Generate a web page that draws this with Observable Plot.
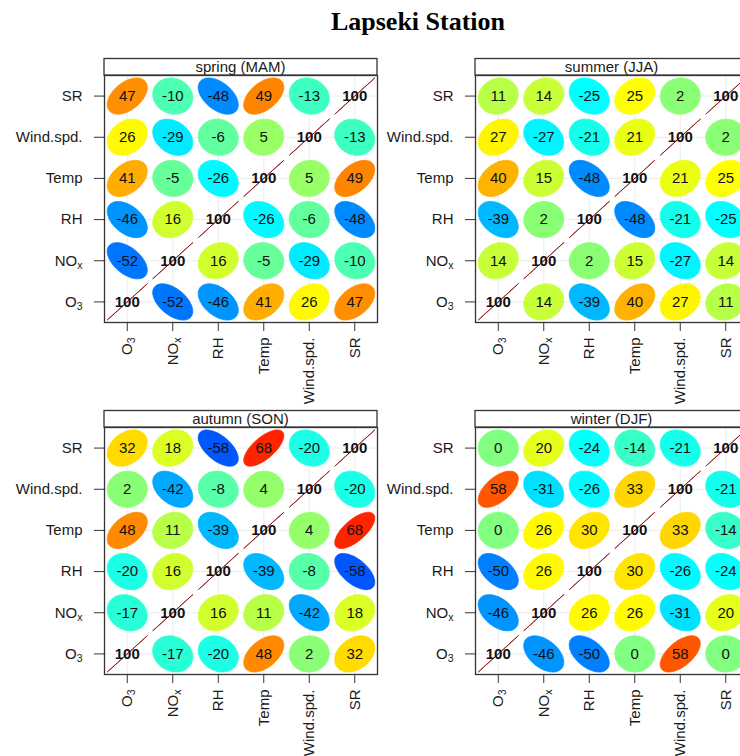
<!DOCTYPE html>
<html>
<head>
<meta charset="utf-8">
<script src="https://cdn.jsdelivr.net/npm/d3@7"></script>
<script src="https://cdn.jsdelivr.net/npm/@observablehq/plot@0.6"></script>
<style>
  html, body { margin: 0; padding: 0; background: #fff; overflow: hidden; }
  #wrap { position: relative; width: 740px; height: 756px; overflow: hidden; background: #fff; }
  .panel { position: absolute; width: 381px; height: 349px; }
  .panel svg { overflow: visible; max-width: none !important; width: 381px !important; height: 349px !important; }
</style>
</head>
<body>
<div id="wrap"></div>
<script>
// ---- data ----
const title = "Lapseki Station";
const vars = ["O3", "NOx", "RH", "Temp", "Wind.spd.", "SR"]; // bottom-to-top / left-to-right
const seasonLabels = ["spring (MAM)", "summer (JJA)", "autumn (SON)", "winter (DJF)"];

// rows: y variable (O3, NOx, RH, Temp, Wind.spd., SR); columns: x variable in same order
const spring = [
  [100, -52, -46, 41, 26, 47],
  [-52, 100, 16, -5, -29, -10],
  [-46, 16, 100, -26, -6, -48],
  [41, -5, -26, 100, 5, 49],
  [26, -29, -6, 5, 100, -13],
  [47, -10, -48, 49, -13, 100]
];
const summer = [
  [100, 14, -39, 40, 27, 11],
  [14, 100, 2, 15, -27, 14],
  [-39, 2, 100, -48, -21, -25],
  [40, 15, -48, 100, 21, 25],
  [27, -27, -21, 21, 100, 2],
  [11, 14, -25, 25, 2, 100]
];
const autumn = [
  [100, -17, -20, 48, 2, 32],
  [-17, 100, 16, 11, -42, 18],
  [-20, 16, 100, -39, -8, -58],
  [48, 11, -39, 100, 4, 68],
  [2, -42, -8, 4, 100, -20],
  [32, 18, -58, 68, -20, 100]
];
const winter = [
  [100, -46, -50, 0, 58, 0],
  [-46, 100, 26, 26, -31, 20],
  [-50, 26, 100, 30, -26, -24],
  [0, 26, 30, 100, 33, -14],
  [58, -31, -26, 33, 100, -21],
  [0, 20, -24, -14, -21, 100]
];
const matrices = [spring, summer, autumn, winter];

// ---- layout ----
const panelPos = [[0, 58], [371, 58], [0, 410], [371, 410]];
const W = 381, H = 349, ML = 104, MR = 4, MT = 17, MB = 85;

// openair "default" palette (jet)
function jet(t) {
  const c = v => Math.max(0, Math.min(1, v));
  const r = c(1.5 - Math.abs(4 * t - 3));
  const g = c(1.5 - Math.abs(4 * t - 2));
  const b = c(1.5 - Math.abs(4 * t - 1));
  return d3.rgb(r * 255, g * 255, b * 255).formatHex();
}

const idx = vars.map((_, i) => i + 1);
const S = 0.44, NPTS = 72;

const wrap = d3.select("#wrap");

// title
const tsvg = wrap.append("svg").attr("width", 740).attr("height", 50)
  .style("position", "absolute").style("left", 0).style("top", 0);
tsvg.append("text").attr("x", 418).attr("y", 30).attr("text-anchor", "middle")
  .attr("font-family", "'Liberation Serif', 'Times New Roman', serif")
  .attr("font-weight", "bold").attr("font-size", 26).attr("fill", "#000").text(title);

matrices.forEach((m, p) => {
  const cells = [];
  const pts = [];
  m.forEach((row, i) => row.forEach((v, j) => {
    cells.push({i, j, v});
    const d = Math.acos(Math.max(-1, Math.min(1, v / 100)));
    for (let k = 0; k < NPTS; k++) {
      const t = 2 * Math.PI * k / NPTS;
      pts.push({id: i + "-" + j, x: j + 1 + S * Math.cos(t + d / 2), y: i + 1 + S * Math.cos(t - d / 2), r: v});
    }
  }));
  const diag = cells.filter(c => c.i === c.j);
  const off = cells.filter(c => c.i !== c.j);

  const chart = Plot.plot({
    width: W, height: H,
    marginLeft: ML, marginRight: MR, marginTop: MT, marginBottom: MB,
    style: {fontFamily: "'Liberation Sans', Arial, sans-serif", fontSize: "15px", color: "#1a1a1a", background: "transparent", overflow: "visible"},
    x: {domain: [0.5, 6.5], ticks: idx, tickFormat: i => vars[i - 1], tickRotate: -90, tickSize: 9, tickPadding: 6, label: null},
    y: {domain: [0.5, 6.5], ticks: idx, tickFormat: i => vars[i - 1], tickSize: 10, tickPadding: 12, label: null},
    color: {type: "linear", domain: [-100, 100], interpolate: jet},
    marks: [
      Plot.ruleX(idx, {stroke: "#ececec", strokeWidth: 1}),
      Plot.ruleY(idx, {stroke: "#ececec", strokeWidth: 1}),
      Plot.line(pts, {x: "x", y: "y", z: "id", fill: "r", stroke: "r", strokeWidth: 0.8, curve: "linear-closed"}),
      Plot.text(off, {x: d => d.j + 1, y: d => d.i + 1, text: d => String(d.v), fontSize: 15, fill: "#111"}),
      Plot.text(diag, {x: d => d.j + 1, y: d => d.i + 1, text: d => String(d.v), fontSize: 15, fontWeight: "bold", fill: "#111"}),
      Plot.frame({stroke: "#333", strokeWidth: 1.3})
    ]
  });

  const svg = d3.select(chart);
  // strip
  svg.append("rect").attr("x", ML).attr("y", 0.5).attr("width", W - ML - MR).attr("height", MT - 0.5)
    .attr("fill", "#fff").attr("stroke", "#333").attr("stroke-width", 1.3);
  svg.append("text").attr("x", ML + (W - ML - MR) / 2).attr("y", 13.5).attr("text-anchor", "middle")
    .attr("font-size", 15).attr("fill", "#1a1a1a").text(seasonLabels[p]);

  // subscripts
  svg.selectAll("text").each(function () {
    const el = d3.select(this);
    if (this.childElementCount) return;
    const s = this.textContent;
    if (s === "O3" || s === "NOx") {
      const base = s === "O3" ? "O" : "NO";
      const sub = s === "O3" ? "3" : "x";
      el.text(base);
      el.append("tspan").attr("dy", "0.3em").attr("font-size", "70%").text(sub);
    }
  });
  // tick colour
  svg.selectAll("g[aria-label$='tick'] path, g[aria-label$='axis'] path").attr("stroke", "#333");

  wrap.append("div").attr("class", "panel")
    .style("left", panelPos[p][0] + "px").style("top", panelPos[p][1] + "px")
    .node().appendChild(chart);
});
</script>
</body>
</html>
